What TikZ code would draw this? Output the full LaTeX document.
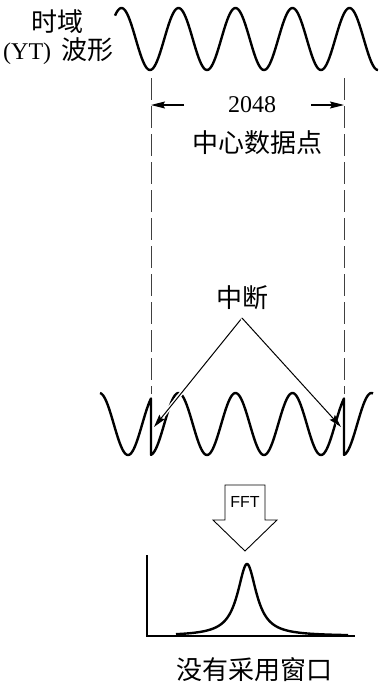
\documentclass[tikz,border=0pt]{standalone}
\usepackage{fontspec}
\setmainfont{Liberation Serif}
\setsansfont{Liberation Sans}
\newfontfamily\cjk{Noto Sans CJK SC}
\usetikzlibrary{arrows.meta}
\tikzset{
    wavecurve/.style={line width=2.4pt, line join=round},
    cutline/.style={line width=0.8pt, black!75, dash pattern=on 22pt off 6pt},
    dimarrow/.style={-{Stealth[length=14pt, width=7pt, inset=2pt]}, line width=1.1pt},
    breakarrow/.style={-{Stealth[length=13pt, width=7pt, inset=2pt]}, line width=1pt,
        preaction={draw=white, line width=4pt, -}},
    cjklabel/.style={font=\cjk\fontsize{26}{30}\selectfont, inner sep=0pt},
    numlabel/.style={font=\rmfamily\fontsize{24}{28}\selectfont, inner sep=0pt},
    fftbox/.style={line width=0.9pt, line join=miter},
    axisline/.style={line width=1.3pt}
}
\begin{document}
\begin{tikzpicture}[x=1pt, y=-1pt]
        \useasboundingbox (0,0) rectangle (379,686);
        % time record
        \node[cjklabel] (td) at (57,22) {时域};
        \node[cjklabel, anchor=west] (yt) at (3,51) {{\rmfamily\fontsize{24}{28}\selectfont (YT)}\hspace{10pt}波形};
        \draw[wavecurve] plot[domain=115:378, samples=240] (\x, {39+31*cos((\x-150)/57*360)});
        \coordinate (cutLtop) at (151,78);
        \coordinate (cutRtop) at (344,78);
        \coordinate (cutLbot) at (151,394);
        \coordinate (cutRbot) at (344,394);
        \draw[cutline] (cutLtop) -- (cutLbot);
        \draw[cutline] (cutRtop) -- (cutRbot);
        \node[numlabel] (npts) at (252,105) {2048};
        \node[cjklabel] (mid) at (257,143) {中心数据点};
        \coordinate (dimL) at (184,105);
        \coordinate (dimR) at (311,105);
        \draw[dimarrow] (dimL) -- (cutLtop |- dimL);
        \draw[dimarrow] (dimR) -- (cutRtop |- dimR);
        % record repeated by the FFT
        \draw[wavecurve] plot[domain=100:151, samples=60] (\x, {424+31*cos((\x+193-150)/57*360)})
            -- plot[domain=151:344, samples=200] (\x, {424+31*cos((\x-150)/57*360)})
            -- plot[domain=344:373, samples=40] (\x, {424+31*cos((\x-193-150)/57*360)});
        \node[cjklabel] (brk) at (242,298) {中断};
        \coordinate (brkfoot) at (242,318);
        \coordinate (tipL) at (154,427);
        \coordinate (tipR) at (341,427);
        \draw[breakarrow] (brkfoot) -- (tipL);
        \draw[breakarrow] (brkfoot) -- (tipR);
        % FFT step
        \draw[fftbox] (225,485) -- (265,485) -- (265,520) -- (277,520) -- (245,551)
            -- (213,520) -- (225,520) -- cycle;
        \node[font=\sffamily\fontsize{16}{18}\selectfont, inner sep=0pt] (fft) at (245,502) {FFT};
        % spectrum
        \coordinate (ytop) at (147,555);
        \coordinate (orig) at (147,636);
        \coordinate (xend) at (355,636);
        \draw[axisline] (ytop) -- (orig) -- (xend);
        \draw[wavecurve] plot[domain=176:348, samples=301] (\x, {636-72/(1+((\x-247)/11.5)^2)});
        \node[cjklabel] (nowin) at (254,670) {没有采用窗口};
    \end{tikzpicture}
\end{document}
